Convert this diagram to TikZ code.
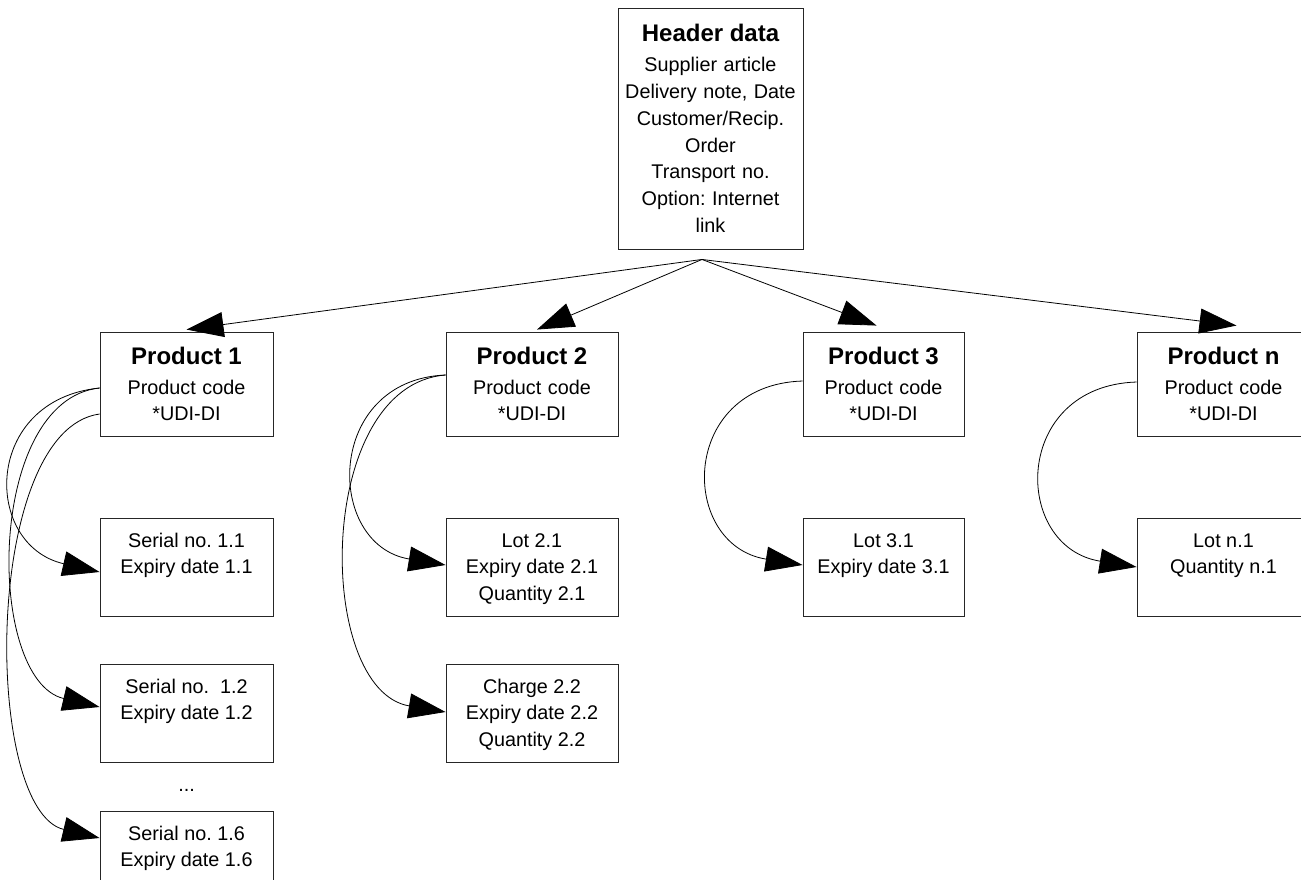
\documentclass[tikz,border=0pt]{standalone}
\usepackage{fontspec}
\setmainfont{Liberation Sans}
\usetikzlibrary{arrows.meta,calc}
\frenchspacing

% bold heading line inside a box
\newcommand\boxtitle[1]{{\fontsize{24}{28}\selectfont\bfseries #1}}
% text hung from the top of a fixed-size item box
\newcommand\itemtext[2]{\parbox[c][98pt][t]{#1}{\centering\rule{0pt}{29pt}#2}}

\tikzset{
  x=1pt, y=-1pt,
  box/.style={draw=black!85, line width=0.9pt, rectangle, inner sep=0pt,
    align=center, font=\fontsize{19.8}{26.8}\selectfont},
  headbox/.style={box, minimum height=104pt, text width=#1, minimum width=#1},
  itembox/.style={box, minimum height=98pt, minimum width=#1},
  link/.style={line width=0.8pt, -{Triangle[length=37pt,width=25pt]}},
}

\begin{document}
\begin{tikzpicture}
\useasboundingbox (0,0) rectangle (1301,879);
\clip (0,0) rectangle (1301,879);

% top record
\node[box, minimum width=185pt, minimum height=241pt, text width=185pt] (hdr) at (710.5,128.5)
  {\boxtitle{Header data}\\[3pt]Supplier article\\Delivery note, Date\\Customer/Recip.\\Order\\Transport no.\\Option: Internet\\link};
\coordinate (hub) at ([xshift=-8.5pt,yshift=-10pt]hdr.south);

% products
\node[headbox=173pt] (p1) at (186.5,384) {\boxtitle{Product 1}\\[3pt]Product code\\{}*UDI-DI};
\node[headbox=172pt] (p2) at (532,384)   {\boxtitle{Product 2}\\[3pt]Product code\\{}*UDI-DI};
\node[headbox=161pt] (p3) at (883.5,384) {\boxtitle{Product 3}\\[3pt]Product code\\{}*UDI-DI};
\node[headbox=173pt] (pn) at (1223.5,384){\boxtitle{Product n}\\[3pt]Product code\\{}*UDI-DI};

% items of product 1
\node[itembox=173pt] (s11) at (186.5,567) {\itemtext{170pt}{Serial no. 1.1\\Expiry date 1.1}};
\node[itembox=173pt] (s12) at (186.5,713) {\itemtext{170pt}{Serial no.\ \ 1.2\\Expiry date 1.2}};
\node[font=\fontsize{19.8}{26.8}\selectfont] (dots) at (186.5,790) {...};
\node[itembox=173pt] (s16) at (186.5,860) {\itemtext{170pt}{Serial no. 1.6\\Expiry date 1.6}};

% items of product 2
\node[itembox=172pt] (l21) at (532,567) {\itemtext{170pt}{Lot 2.1\\Expiry date 2.1\\Quantity 2.1}};
\node[itembox=172pt] (c22) at (532,713) {\itemtext{170pt}{Charge 2.2\\Expiry date 2.2\\Quantity 2.2}};

% items of product 3 and n
\node[itembox=161pt] (l31) at (883.5,567) {\itemtext{158pt}{Lot 3.1\\Expiry date 3.1}};
\node[itembox=173pt] (ln1) at (1223.5,567) {\itemtext{170pt}{Lot n.1\\Quantity n.1}};

% header to products
\draw[link] (hub) -- ([yshift=2pt]p1.north);
\draw[link] (hub) -- ([xshift=5pt,yshift=2pt]p2.north);
\draw[link] (hub) -- ([xshift=-7pt,yshift=6pt]p3.north);
\draw[link] (hub) -- ([xshift=13pt,yshift=6pt]pn.north);

% products to their items
\draw[link] ([yshift=-4pt]p1.west) .. controls +(-117,12) and +(-117,-27) .. ([yshift=-5pt]s11.west);
\draw[link] ([yshift=-4pt]p1.west) .. controls +(-114,12) and +(-114,-27) .. ([yshift=6pt]s12.west);
\draw[link] ([yshift=-30pt]p1.west) .. controls +(-117,16) and +(-117,-28) .. ([yshift=22pt]s16.west);

\draw[link] ([yshift=9pt]p2.west) .. controls +(-121,5) and +(-121,-20) .. ([yshift=2pt]l21.west);
\draw[link] ([yshift=9pt]p2.west) .. controls +(-131,10) and +(-131,-22) .. ([yshift=1pt]c22.west);

\draw[link] ([yshift=3pt]p3.west) .. controls +(-124,4) and +(-124,-20) .. ([yshift=2pt]l31.west);
\draw[link] ([yshift=2pt]pn.west) .. controls +(-125,4) and +(-125,-20) .. (ln1.west);
\end{tikzpicture}
\end{document}
